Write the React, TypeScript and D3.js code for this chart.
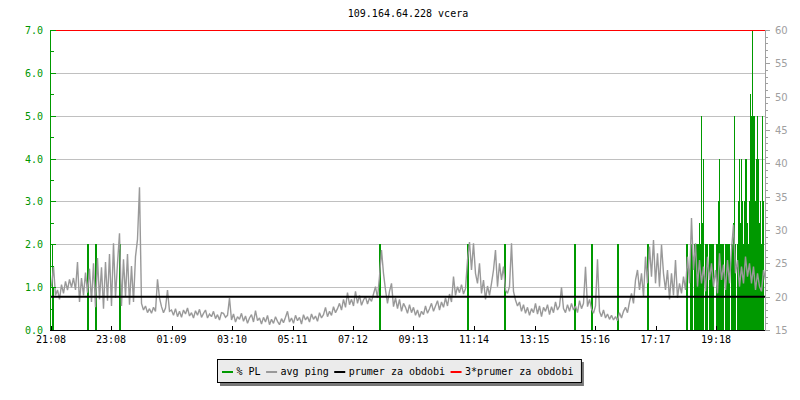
import * as d3 from 'd3';

// ---- data ---------------------------------------------------------------
const TITLE = '109.164.64.228 vcera';

// minutes since 21:08, whole window shown
const SPAN_MINUTES = 1428;
const TICK_MINUTES = [0, 120, 241, 362, 483, 604, 725, 846, 967, 1088, 1209, 1330];
const TICK_LABELS = ['21:08', '23:08', '01:09', '03:10', '05:11', '07:12', '09:13', '11:14', '13:15', '15:16', '17:17', '19:18'];

// avg ping [ms], one sample every 4 minutes
const PING_STEP = 4;
const PING = [
  21.5, 24.5, 20.2, 21.0, 19.6, 21.8, 20.5, 22.3, 21.0, 22.6,
  21.4, 22.8, 21.0, 25.2, 19.2, 22.8, 20.2, 23.6, 20.6, 24.2,
  19.2, 25.0, 18.4, 25.8, 19.6, 24.4, 18.2, 25.2, 19.4, 26.4,
  18.6, 28.0, 19.8, 25.0, 29.5, 18.6, 25.6, 20.0, 26.4, 18.8,
  24.6, 19.2, 26.0, 28.6, 36.4, 19.0, 18.0, 18.6, 17.6, 18.2,
  17.5, 18.4, 17.8, 22.6, 19.8, 18.5, 17.6, 18.3, 21.0, 17.8,
  18.0, 17.2, 18.2, 17.0, 17.8, 16.9, 18.0, 17.4, 18.3, 17.1,
  17.6, 16.8, 17.9, 17.2, 18.1, 16.9, 17.5, 18.0, 16.8, 17.4,
  17.0, 17.8, 16.7, 17.3, 16.5, 17.6, 17.5, 16.9, 17.2, 19.8,
  16.5, 17.4, 16.2, 17.0, 16.6, 17.5, 16.3, 17.1, 16.0, 16.8,
  17.3, 16.2, 17.9, 16.4, 16.8, 15.9, 16.9, 16.2, 17.2, 15.8,
  16.6, 16.0, 17.0, 16.3, 15.8, 16.7, 16.1, 16.9, 17.8, 16.2,
  16.8, 16.0, 17.2, 16.4, 16.9, 15.9, 17.3, 16.5, 17.0, 16.2,
  17.4, 16.6, 17.1, 16.3, 17.6, 16.8, 17.3, 18.4, 17.0, 17.8,
  17.2, 18.5, 17.6, 18.2, 19.0, 18.0, 19.6, 18.4, 20.6, 18.8,
  19.6, 18.6, 20.8, 19.0, 20.2, 18.7, 19.5, 20.0, 18.9, 19.8,
  19.3, 20.4, 21.5, 19.8, 23.0, 27.0, 23.5, 21.0, 19.0, 20.8,
  22.0, 18.5, 19.8, 18.2, 19.6, 17.8, 19.0, 18.4, 17.5, 18.8,
  17.6, 18.4, 17.2, 18.0, 16.9, 17.8, 17.3, 18.6, 17.5, 18.2,
  19.0, 17.8, 18.6, 19.4, 18.0, 19.2, 18.4, 19.8, 18.6, 20.4,
  19.2, 23.0, 20.2, 21.5, 20.6, 21.8, 20.4, 21.2, 25.5, 28.2,
  24.0, 28.0, 23.5, 22.0, 25.0, 20.5, 22.5, 19.6, 21.6, 20.2,
  22.0, 24.0, 27.0, 21.5, 25.0, 22.5, 24.5, 21.0, 20.5, 21.5,
  28.0, 20.8, 19.5, 18.6, 19.2, 17.8, 18.8, 17.5, 18.4, 17.2,
  18.2, 17.6, 19.0, 17.4, 18.6, 17.0, 18.4, 17.8, 18.8, 17.3,
  18.5, 17.6, 19.2, 18.0, 18.6, 21.4, 18.2, 17.6, 18.8, 17.8,
  19.0, 18.0, 18.6, 17.6, 19.4, 18.2, 19.0, 24.5, 18.5, 19.6,
  18.2, 17.5, 18.6, 25.6, 17.8, 17.0, 18.0, 16.8, 17.4, 16.6,
  17.2, 16.5, 17.0, 16.4, 17.6, 16.8, 17.8, 18.4, 17.6, 19.2,
  20.5, 19.0, 22.5, 24.0, 21.0, 23.5, 20.0, 26.0, 22.0, 27.5,
  23.0, 28.5, 22.0, 26.5, 21.5, 27.8, 23.5, 21.0, 24.0, 19.6,
  23.5, 20.2, 25.5, 19.8, 22.0, 20.5, 23.0, 21.0, 26.0, 22.0,
  31.8, 24.0, 28.0, 21.5, 25.5, 22.0, 24.5, 20.8, 26.0, 22.5,
  25.0, 21.5, 24.0, 20.5, 26.5, 22.5, 24.8, 21.0, 25.5, 22.0,
  27.0, 30.8, 23.5, 25.5, 21.5, 24.5, 22.0, 26.0, 23.0, 25.0,
  22.0, 24.5, 21.0, 23.5, 21.5, 20.8, 24.0, 22.5,
];

// packet loss [%], isolated samples: [minute, value]
const PL_EVENTS: [number, number][] = [
  [2, 2], [4, 1], [72, 2], [74, 2], [88, 2], [90, 2], [136, 2], [138, 2],
  [656, 2], [658, 2], [832, 2], [834, 2], [906, 2], [908, 2], [1046, 2], [1048, 2],
  [1080, 2], [1082, 2], [1132, 2], [1134, 2], [1192, 2], [1194, 2],
];

// packet loss [%] during the evening burst, one sample every 2 minutes
const PL_BURST_START = 1270;
const PL_BURST_STEP = 2;
const PL_BURST = [
  2, 2, 0, 0, 2, 2, 2, 0, 2, 2,
  2, 2, 2, 2.5, 2, 5, 2.5, 4, 0, 2,
  2, 2, 0, 2, 2, 2, 2, 2, 0, 0,
  2, 2, 3, 4, 2, 2, 2, 2, 0, 2,
  2, 2, 2, 2, 0, 2, 2, 2.5, 5, 2,
  0, 2, 3, 4, 2.5, 4, 3, 2, 3, 4,
  4, 2.5, 2, 3, 5.5, 5, 7, 5, 5, 3,
  4, 5, 4, 2.5, 3, 2, 5, 3, 0, 2,
];

const AVG_PING = 20;

const LEGEND_LABELS = ['% PL', 'avg ping', 'prumer za obdobi', '3*prumer za obdobi'];
const LEGEND_COLORS = ['#009900', '#999999', '#000000', '#ff0000'];

// ---- layout -------------------------------------------------------------
const WIDTH = 800;
const HEIGHT = 400;
const PLOT = { left: 51, right: 765, top: 30, bottom: 330 };
const MONO = 'DejaVu Sans Mono, monospace';
const CHAR_W = 6.02;

export default function App() {
  const x = d3.scaleLinear().domain([0, SPAN_MINUTES]).range([PLOT.left, PLOT.right]);
  const yPL = d3.scaleLinear().domain([0, 7]).range([PLOT.bottom, PLOT.top]);
  const yPing = d3.scaleLinear().domain([15, 60]).range([PLOT.bottom, PLOT.top]);

  const px = (v: number) => Math.round(v) + 0.5;

  const plSamples: [number, number][] = [
    ...PL_EVENTS,
    ...PL_BURST.map((v, i) => [PL_BURST_START + i * PL_BURST_STEP, v] as [number, number]),
  ].filter(([, v]) => v > 0);

  const pingLine = d3
    .line<number>()
    .x((_, i) => x(i * PING_STEP) + 0.5)
    .y((v) => yPing(v));

  const plTicks = d3.range(0, 7.01, 0.5);
  const pingTicks = d3.range(15, 60.01, 1);

  // legend layout
  const legendItems: { label: string; color: string; x: number }[] = [];
  let cursor = 222;
  LEGEND_LABELS.forEach((label, i) => {
    legendItems.push({ label, color: LEGEND_COLORS[i], x: cursor });
    cursor += 14.5 + label.length * CHAR_W + 5.5;
  });
  const legendLeft = 217;
  const legendRight = cursor + 2;

  return (
    <svg
      width={WIDTH}
      height={HEIGHT}
      viewBox={`0 0 ${WIDTH} ${HEIGHT}`}
      style={{ position: 'absolute', left: 0, top: 0, display: 'block', background: '#ffffff' }}
    >
      <text x={(PLOT.left + PLOT.right) / 2} y={17} textAnchor="middle" fontFamily={MONO} fontSize={10} fill="#000">
        {TITLE}
      </text>

      {/* grid */}
      {d3.range(1, 7).map((v) => (
        <line key={v} x1={PLOT.left} x2={PLOT.right} y1={px(yPL(v))} y2={px(yPL(v))} stroke="#c0c0c0" strokeWidth={1} />
      ))}

      {/* packet loss bars */}
      <g shapeRendering="crispEdges">
        {plSamples.map(([m, v], i) => (
          <rect
            key={i}
            x={Math.round(x(m))}
            width={Math.max(1, x(m + PL_BURST_STEP) - x(m))}
            y={Math.round(yPL(v))}
            height={PLOT.bottom - Math.round(yPL(v))}
            fill="#009900"
          />
        ))}
      </g>

      {/* avg ping */}
      <path d={pingLine(PING) ?? ''} fill="none" stroke="#999999" strokeWidth={1.4} strokeLinejoin="miter" strokeMiterlimit={2} />

      {/* period average and 3x average */}
      <line x1={PLOT.left} x2={PLOT.right} y1={yPing(AVG_PING)} y2={yPing(AVG_PING)} stroke="#000" strokeWidth={2} />
      <line
        x1={PLOT.left}
        x2={PLOT.right}
        y1={px(yPing(AVG_PING * 3))}
        y2={px(yPing(AVG_PING * 3))}
        stroke="#ff0000"
        strokeWidth={1}
      />

      {/* left axis */}
      <g shapeRendering="crispEdges">
        <line x1={PLOT.left - 0.5} x2={PLOT.left - 0.5} y1={PLOT.top} y2={PLOT.bottom} stroke="#009900" />
        {plTicks.map((v) => (
          <line
            key={v}
            x1={PLOT.left - 1}
            x2={PLOT.left + (v % 1 === 0 ? 5 : 3)}
            y1={px(yPL(v))}
            y2={px(yPL(v))}
            stroke="#009900"
          />
        ))}
      </g>
      {d3.range(0, 8).map((v) => (
        <text key={v} x={43} y={yPL(v) + 4} textAnchor="end" fontFamily={MONO} fontSize={10} fill="#009600">
          {v.toFixed(1)}
        </text>
      ))}

      {/* right axis */}
      <g shapeRendering="crispEdges">
        <line x1={PLOT.right + 0.5} x2={PLOT.right + 0.5} y1={PLOT.top} y2={PLOT.bottom} stroke="#a0a0a0" />
        {pingTicks.map((v) => (
          <line
            key={v}
            x1={PLOT.right}
            x2={PLOT.right + (v % 5 === 0 ? 5 : 3)}
            y1={px(yPing(v))}
            y2={px(yPing(v))}
            stroke="#a0a0a0"
          />
        ))}
      </g>
      {d3.range(15, 61, 5).map((v) => (
        <text key={v} x={775} y={yPing(v) + 4} fontFamily="DejaVu Sans, sans-serif" fontSize={10} fill="#a0a0a0">
          {v}
        </text>
      ))}

      {/* bottom axis */}
      <g shapeRendering="crispEdges">
        <line x1={PLOT.left - 1} x2={PLOT.right} y1={PLOT.bottom + 0.5} y2={PLOT.bottom + 0.5} stroke="#000" />
        {TICK_MINUTES.map((m) => (
          <line key={m} x1={px(x(m))} x2={px(x(m))} y1={PLOT.bottom - 4} y2={PLOT.bottom} stroke="#000" />
        ))}
      </g>
      {TICK_MINUTES.map((m, i) => (
        <text key={m} x={x(m)} y={343} textAnchor="middle" fontFamily={MONO} fontSize={10} fill="#000">
          {TICK_LABELS[i]}
        </text>
      ))}

      {/* legend */}
      <rect x={legendLeft + 3} y={362} width={legendRight - legendLeft} height={24} fill="#777777" />
      <rect
        x={legendLeft + 0.5}
        y={359.5}
        width={legendRight - legendLeft}
        height={23}
        fill="#ebebeb"
        stroke="#000"
        strokeWidth={1}
      />
      {legendItems.map((item) => (
        <g key={item.label}>
          <rect x={item.x} y={371} width={11} height={2} fill={item.color} />
          <text x={item.x + 14.5} y={375} fontFamily={MONO} fontSize={10} fill="#000">
            {item.label}
          </text>
        </g>
      ))}
    </svg>
  );
}
